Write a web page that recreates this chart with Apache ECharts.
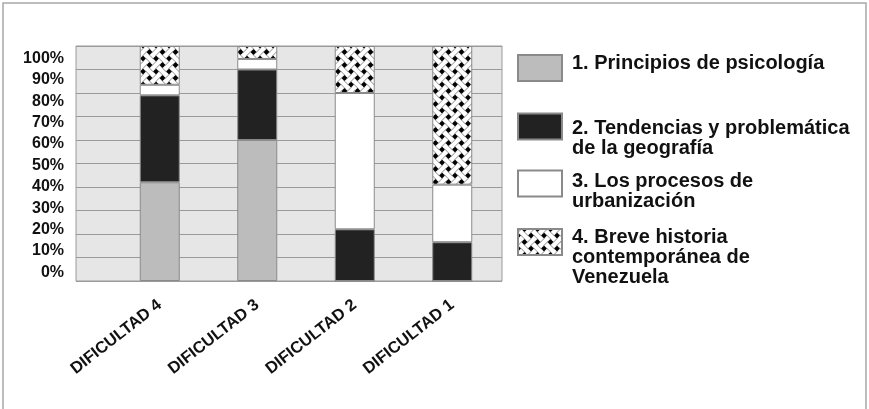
<!DOCTYPE html>
<html><head><meta charset="utf-8">
<script src="https://cdn.jsdelivr.net/npm/echarts@6/dist/echarts.min.js"></script>
<style>html,body{margin:0;padding:0;background:#fff}#c{width:869px;height:409px}</style>
</head><body><div id="c"></div>
<script>
const categories = ['DIFICULTAD 4', 'DIFICULTAD 3', 'DIFICULTAD 2', 'DIFICULTAD 1'];
const seriesNames = ['1. Principios de psicología', '2. Tendencias y problemática\nde la geografía', '3. Los procesos de\nurbanización', '4. Breve historia\ncontemporánea de\nVenezuela'];
const principios = [42, 60, 0, 0];
const tendencias = [37, 30, 22, 16.5];
const urbanizacion = [4.5, 4.5, 58, 24.5];
const historia = [16.5, 5.5, 20, 59];
const yTickValues = [0, 10, 20, 30, 40, 50, 60, 70, 80, 90, 100];

function makePattern() {
  const s = 13, w = 4.8;
  const c = document.createElement('canvas');
  c.width = s; c.height = s;
  const g = c.getContext('2d');
  g.fillStyle = '#000'; g.fillRect(0, 0, s, s);
  g.strokeStyle = '#fff'; g.lineWidth = w; g.lineCap = 'butt';
  for (const o of [-s, 0, s]) {
    g.beginPath(); g.moveTo(o, 0); g.lineTo(o + s, s); g.stroke();
    g.beginPath(); g.moveTo(o + s, 0); g.lineTo(o, s); g.stroke();
  }
  g.strokeStyle = '#808080'; g.lineWidth = 0.9;
  const off = w / 2;
  function seg(cx, cy, dx, dy) {
    const px = -dy * off, py = dx * off;
    const L = w * 0.75;
    for (const sg of [1, -1]) {
      g.beginPath();
      g.moveTo(cx + sg * px - dx * L, cy + sg * py - dy * L);
      g.lineTo(cx + sg * px + dx * L, cy + sg * py + dy * L);
      g.stroke();
    }
  }
  const h = s / 2;
  seg(h, h, 0.7071, 0.7071);
  for (const [x, y] of [[0, 0], [s, 0], [0, s], [s, s]]) seg(x, y, 0.7071, -0.7071);
  return c;
}
const pattern = { image: makePattern(), repeat: 'repeat' };

const font = "'Liberation Sans', Arial, sans-serif";
const chart = echarts.init(document.getElementById('c'), null, { renderer: 'canvas' });
const border = { borderColor: '#8a8a8a', borderWidth: 1 };
function bar(name, data, color) {
  return { name, type: 'bar', stack: 'all', xAxisIndex: 1, yAxisIndex: 2, data, barWidth: 40,
    itemStyle: Object.assign({ color }, border), emphasis: { disabled: true } };
}
// spacer line heights: [before, after]
const spacers = [[0, 10], [24, 0], [16, 0], [31, 0]];
const legendTops = [53, 106, 163, 211.5];
function legendFormatter(i) {
  return function (name) {
    const lines = name.split('\n').map(l => '{t|' + l + '}');
    const sp = spacers[i];
    if (sp[0] > 0) lines.unshift('{a| }');
    if (sp[1] > 0) lines.push('{b| }');
    return lines.join('\n');
  };
}
chart.setOption({
  animation: false,
  backgroundColor: '#ffffff',
  graphic: [{ type: 'rect', shape: { x: 3, y: 3, width: 863, height: 420 }, style: { fill: 'none', stroke: '#a8a8a8', lineWidth: 1.5 }, silent: true }],
  grid: [
    { left: 76, right: 367, top: 46, bottom: 128, show: true, backgroundColor: '#e6e6e6', borderColor: '#9a9a9a', borderWidth: 1 },
    { left: 111, right: 368, top: 46, bottom: 128 }
  ],
  xAxis: [
    { gridIndex: 0, type: 'value', min: 0, max: 1, show: false },
    { gridIndex: 1, type: 'category', data: categories, axisLine: { show: false }, axisTick: { show: false },
      axisLabel: { rotate: 38, margin: 22, color: '#111', fontFamily: font, fontWeight: 'bold', fontSize: 16.5, interval: 0 } }
  ],
  yAxis: [
    { gridIndex: 0, type: 'value', position: 'left', min: 0, max: 100, interval: 10, axisLabel: { show: false }, axisLine: { show: false }, axisTick: { show: false },
      splitLine: { show: true, lineStyle: { color: '#9a9a9a', width: 1.2 } } },
    { gridIndex: 0, type: 'value', position: 'left', offset: 0, min: -3.97, max: 105.74, axisLine: { show: false }, axisTick: { show: false }, splitLine: { show: false },
      axisLabel: { customValues: yTickValues, formatter: v => v + '%', margin: 12, color: '#111', fontFamily: font, fontWeight: 'bold', fontSize: 16 } },
    { gridIndex: 1, type: 'value', min: 0, max: 100, show: false, splitLine: { show: false } }
  ],
  legend: seriesNames.map((n, i) => ({
    data: [n], orient: 'vertical', left: 517, top: legendTops[i], padding: 0,
    itemWidth: 44, itemHeight: 26, icon: 'rect', selectedMode: false,
    formatter: legendFormatter(i),
    textStyle: { fontFamily: font, fontWeight: 'bold', fontSize: 20, color: '#111', padding: [0, 0, 0, 5],
      rich: {
        t: { fontFamily: font, fontWeight: 'bold', fontSize: 20, lineHeight: 20, color: '#111' },
        a: { fontSize: 1, lineHeight: spacers[i][0] || 1 },
        b: { fontSize: 1, lineHeight: spacers[i][1] || 1 }
      } }
  })),
  series: [
    bar(seriesNames[0], principios, '#bcbcbc'),
    bar(seriesNames[1], tendencias, '#222222'),
    bar(seriesNames[2], urbanizacion, '#ffffff'),
    bar(seriesNames[3], historia, pattern)
  ]
});
</script></body></html>
